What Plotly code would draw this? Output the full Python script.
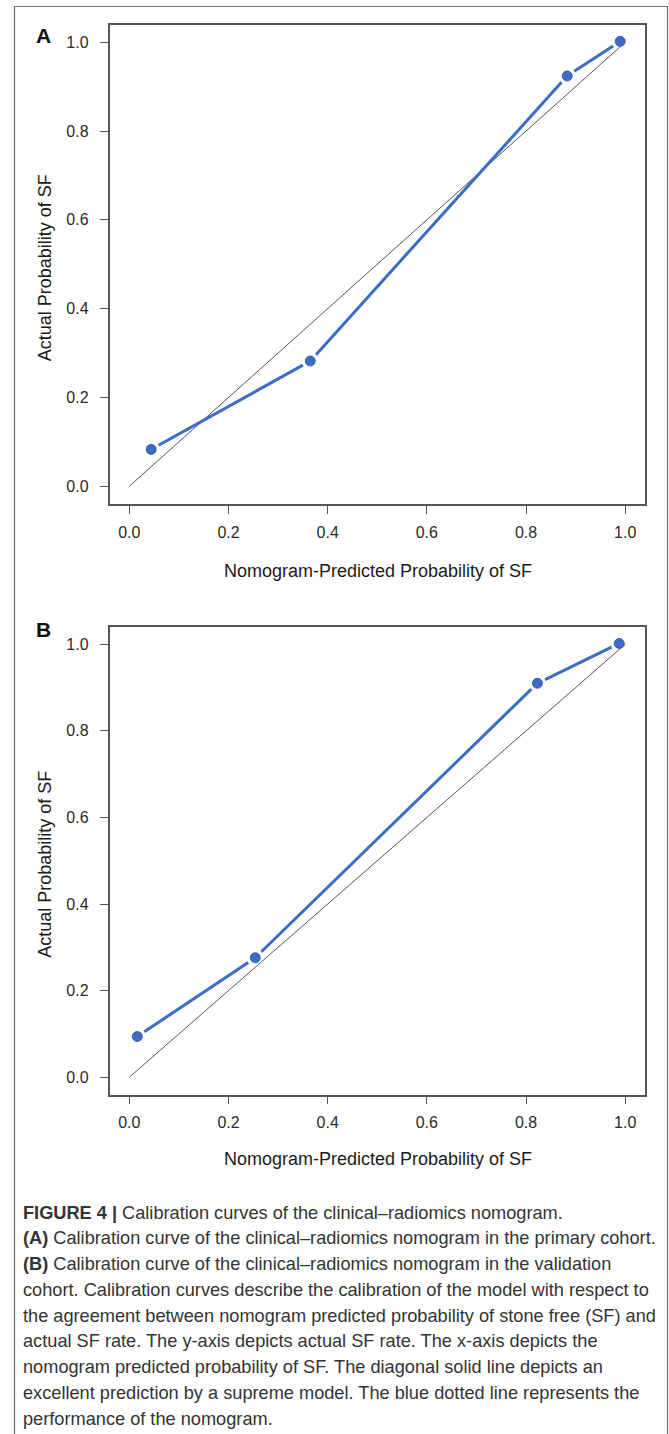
import plotly.graph_objects as go

# ---------------- data ----------------
pred_A = [0.044, 0.365, 0.883, 0.990]
actual_A = [0.083, 0.282, 0.924, 1.002]
pred_B = [0.016, 0.254, 0.823, 0.988]
actual_B = [0.094, 0.276, 0.910, 1.002]
ideal = [0.0, 1.0]
tick_vals = [0.0, 0.2, 0.4, 0.6, 0.8, 1.0]
tick_text = ["0.0", "0.2", "0.4", "0.6", "0.8", "1.0"]
x_title = "Nomogram-Predicted Probability of SF"
y_title = "Actual Probability of SF"
caption_lines = [
    "<b>FIGURE 4 |</b> Calibration curves of the clinical–radiomics nomogram.",
    "<b>(A)</b> Calibration curve of the clinical–radiomics nomogram in the primary cohort.",
    "<b>(B)</b> Calibration curve of the clinical–radiomics nomogram in the validation",
    "cohort. Calibration curves describe the calibration of the model with respect to",
    "the agreement between nomogram predicted probability of stone free (SF) and",
    "actual SF rate. The y-axis depicts actual SF rate. The x-axis depicts the",
    "nomogram predicted probability of SF. The diagonal solid line depicts an",
    "excellent prediction by a supreme model. The blue dotted line represents the",
    "performance of the nomogram.",
]

# ---------------- layout geometry ----------------
W, H = 669, 1434
RANGE = [-0.04, 1.04]
panels = [
    # (label, x data, y data, box left, box right, box top, box bottom, label y, xtitle y)
    ("A", pred_A, actual_A, 109.5, 645.0, 24.5, 504.0, 35, 571),
    ("B", pred_B, actual_B, 109.5, 645.0, 627.0, 1094.5, 629, 1159),
]
BLUE = "#3b6cc6"
GAP = 8.5  # px gap between line ends and point centres
CAP_TOP = 1212.5
CAP_STEP = 25.75


def px2x(px):
    return px / W


def py2y(py):
    return 1 - py / H


fig = go.Figure()
annotations = []
for i, (lab, xs, ys, L, R, T, B, laby, xty) in enumerate(panels):
    ax = "" if i == 0 else str(i + 1)
    xref, yref = "x" + ax, "y" + ax
    span = RANGE[1] - RANGE[0]
    sx = (R - L) / span
    sy = (B - T) / span
    # shortened segments computed in pixel space from the data
    lx, ly = [], []
    for j in range(len(xs) - 1):
        x0p, y0p = xs[j] * sx, ys[j] * sy
        x1p, y1p = xs[j + 1] * sx, ys[j + 1] * sy
        d = ((x1p - x0p) ** 2 + (y1p - y0p) ** 2) ** 0.5
        f = GAP / d
        lx += [xs[j] + (xs[j + 1] - xs[j]) * f, xs[j + 1] - (xs[j + 1] - xs[j]) * f, None]
        ly += [ys[j] + (ys[j + 1] - ys[j]) * f, ys[j + 1] - (ys[j + 1] - ys[j]) * f, None]
    fig.add_trace(go.Scatter(x=ideal, y=ideal, mode="lines", xaxis=xref, yaxis=yref,
                             line=dict(color="#555555", width=1), showlegend=False))
    fig.add_trace(go.Scatter(x=lx, y=ly, mode="lines", xaxis=xref, yaxis=yref,
                             line=dict(color=BLUE, width=3), showlegend=False))
    fig.add_trace(go.Scatter(x=xs, y=ys, mode="markers", xaxis=xref, yaxis=yref,
                             marker=dict(color=BLUE, size=10,
                                         line=dict(color="#2a4f96", width=0.8)),
                             showlegend=False))
    axis_common = dict(range=RANGE, showgrid=False, zeroline=False, showline=True,
                       mirror=True, linecolor="#555555", linewidth=1.5,
                       ticks="outside", ticklen=8, tickwidth=1.2, tickcolor="#555555",
                       tickvals=tick_vals, ticktext=tick_text,
                       tickfont=dict(family="Liberation Sans, Arial", size=16, color="#2a2a2a"))
    fig.update_layout(**{
        "xaxis" + ax: dict(axis_common, domain=[px2x(L), px2x(R)], anchor=yref,
                           ticklabelstandoff=5),
        "yaxis" + ax: dict(axis_common, domain=[py2y(B), py2y(T)], anchor=xref,
                           ticklabelstandoff=8),
    })
    annotations.append(dict(text="<b>" + lab + "</b>", x=px2x(43), y=py2y(laby),
                            xref="paper", yref="paper",
                            showarrow=False, xanchor="center", yanchor="middle",
                            font=dict(family="Liberation Sans, Arial", size=21, color="#111111")))
    annotations.append(dict(text=x_title, x=px2x((L + R) / 2 + 1), y=py2y(xty), xref="paper",
                            yref="paper", showarrow=False, xanchor="center", yanchor="middle",
                            font=dict(family="Liberation Sans, Arial", size=18, color="#1a1a1a")))
    annotations.append(dict(text=y_title, x=px2x(45), y=py2y((T + B) / 2 + 4), xref="paper",
                            yref="paper", showarrow=False, xanchor="center", yanchor="middle",
                            textangle=-90,
                            font=dict(family="Liberation Sans, Arial", size=18, color="#1a1a1a")))

for k, line in enumerate(caption_lines):
    annotations.append(dict(text=line, x=px2x(21), y=py2y(CAP_TOP + k * CAP_STEP),
                            xref="paper", yref="paper", showarrow=False,
                            xanchor="left", yanchor="middle", align="left",
                            font=dict(family="Liberation Sans, Arial", size=18.2,
                                      color="#333333")))

fig.update_layout(
    width=W, height=H, margin=dict(l=0, r=0, t=0, b=0),
    paper_bgcolor="white", plot_bgcolor="white",
    annotations=annotations,
    shapes=[dict(type="rect", xref="paper", yref="paper",
                 x0=px2x(14.5), x1=px2x(667.5), y0=-0.02, y1=py2y(6.5),
                 line=dict(color="#6e6e6e", width=1.2), fillcolor="rgba(0,0,0,0)")],
)

fig.write_html("out.html")
